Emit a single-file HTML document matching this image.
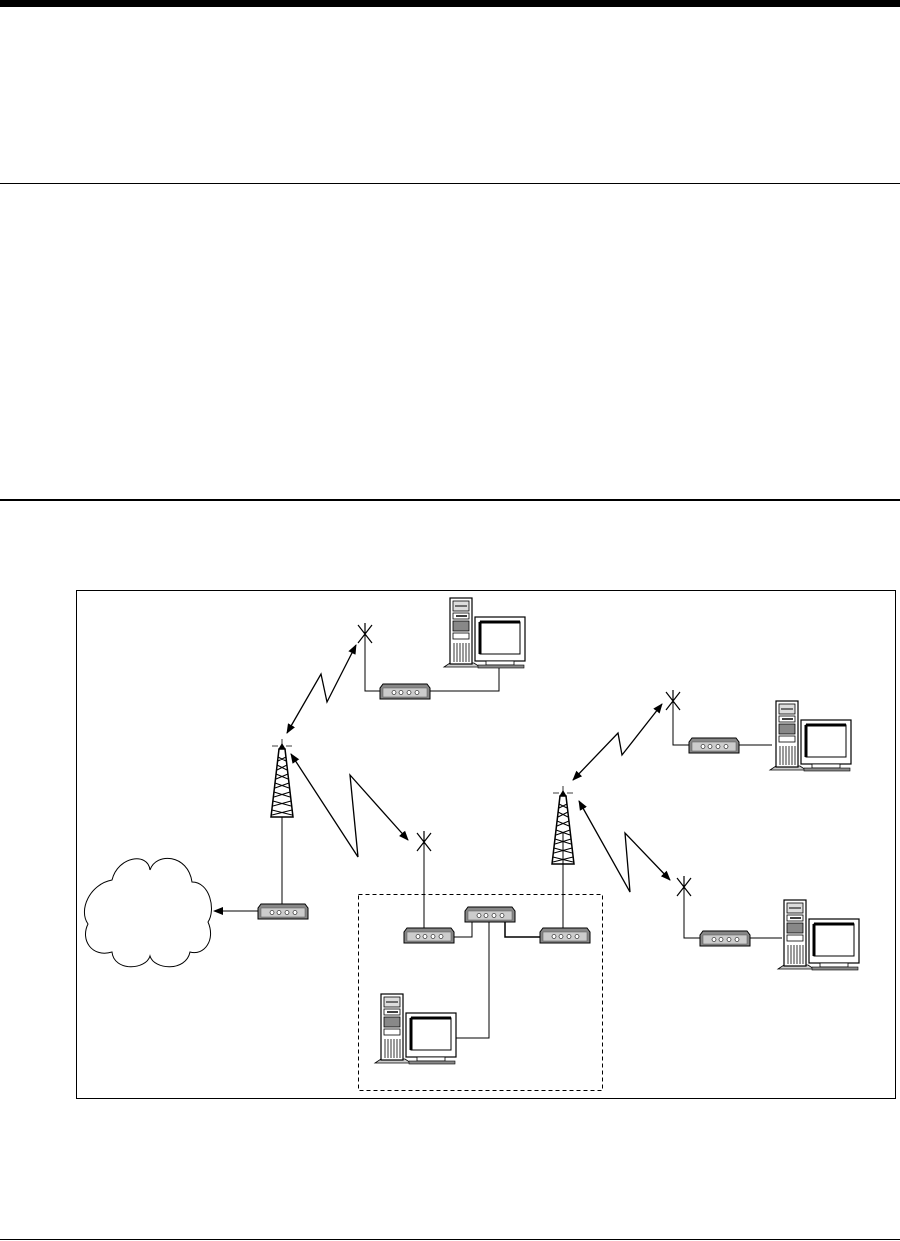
<!DOCTYPE html>
<html><head><meta charset="utf-8"><style>
html,body{margin:0;padding:0;background:#fff;width:900px;height:1241px;overflow:hidden}
</style></head><body>
<svg width="900" height="1241" viewBox="0 0 900 1241" xmlns="http://www.w3.org/2000/svg">
<defs>
<marker id="ah" markerWidth="10" markerHeight="10" refX="9" refY="5" orient="auto-start-reverse" markerUnits="userSpaceOnUse">
<path d="M0,1 L10,5 L0,9 Z" fill="#000"/>
</marker>
<g id="modem">
<path d="M0,4 L3,0 L47,0 L50,4 L50,15 L0,15 Z" fill="#888" stroke="#000" stroke-width="1"/>
<rect x="3" y="4" width="44" height="9" fill="#ccc" stroke="#555" stroke-width="0.5"/>
<circle cx="14" cy="8.5" r="2" fill="#fff" stroke="#000" stroke-width="0.6"/>
<circle cx="21" cy="8.5" r="2" fill="#fff" stroke="#000" stroke-width="0.6"/>
<circle cx="29" cy="8.5" r="2" fill="#fff" stroke="#000" stroke-width="0.6"/>
<circle cx="37" cy="8.5" r="2" fill="#fff" stroke="#000" stroke-width="0.6"/>
</g>
<g id="pc">
<path d="M0,69 L6,65 L30,65 L36,69 Z" fill="#ccc" stroke="#000" stroke-width="0.8"/>
<rect x="6" y="0" width="22" height="66" fill="#fff" stroke="#000" stroke-width="1.2"/>
<rect x="9" y="3" width="16" height="10" fill="#ddd" stroke="#000" stroke-width="0.8"/>
<line x1="11" y1="8" x2="23" y2="8" stroke="#000"/>
<rect x="9" y="15" width="16" height="6" fill="#fff" stroke="#000" stroke-width="0.8"/>
<line x1="12" y1="18" x2="23" y2="18" stroke="#000" stroke-width="1.5"/>
<rect x="9" y="23" width="16" height="10" fill="#888" stroke="#000" stroke-width="0.8"/>
<rect x="9" y="35" width="16" height="6" fill="#fff" stroke="#000" stroke-width="0.8"/>
<g stroke="#000" stroke-width="0.8"><line x1="10" y1="45" x2="10" y2="64"/><line x1="13" y1="45" x2="13" y2="64"/><line x1="16" y1="45" x2="16" y2="64"/><line x1="19" y1="45" x2="19" y2="64"/><line x1="22" y1="45" x2="22" y2="64"/><line x1="25" y1="45" x2="25" y2="64"/></g>
<rect x="31" y="19" width="50" height="44" fill="#fff" stroke="#000" stroke-width="1.2"/>
<rect x="36" y="24" width="40" height="32" fill="#fff" stroke="#000" stroke-width="1"/>
<path d="M36,24 L76,24 M36,24 L36,56" stroke="#000" stroke-width="3"/>
<rect x="42" y="63" width="28" height="4" fill="#fff" stroke="#000" stroke-width="0.8"/>
<rect x="34" y="67" width="46" height="3" fill="#888" stroke="#000" stroke-width="0.6"/>
</g>
<g id="ant">
<path d="M-7,-9 L7,9 M7,-9 L-7,9 M0,-11 L0,0" stroke="#000" stroke-width="1.2" fill="none"/>
</g>
<g id="tower" fill="none" stroke="#000" stroke-width="1">
<path d="M-3,0 L-11,68 L11,68 L3,0 Z" stroke-width="1.5"/>
<path d="M-4,8 L4,12 M4,8 L-4,12 M-5,16 L5,21 M5,16 L-5,21 M-6,25 L6,30 M6,25 L-6,30 M-7,34 L7,39 M7,34 L-7,39 M-8,43 L8,48 M8,43 L-8,48 M-9,52 L9,57 M9,52 L-9,57 M-10,61 L10,66 M10,61 L-10,66"/>
<path d="M0,0 L0,-10 M-10,-3 L-4,-3 M4,-3 L10,-3" stroke-width="0.8"/>
<path d="M-3,0 L0,-5 L3,0 Z" fill="#000"/>
</g>
</defs>

<rect x="0" y="0" width="900" height="7" fill="#000"/>
<rect x="0" y="183" width="900" height="1" fill="#000"/>
<rect x="0" y="499" width="900" height="2" fill="#000"/>
<rect x="0" y="1239" width="900" height="1" fill="#000"/>

<rect x="76.5" y="590.5" width="819" height="508" fill="none" stroke="#000" stroke-width="1"/>
<rect x="358.5" y="894.5" width="244" height="196" fill="none" stroke="#000" stroke-width="1" stroke-dasharray="4,3"/>

<!-- cloud -->
<path d="M112,880 C118,856 148,852 150,870 C156,852 188,854 192,882 C210,882 216,910 208,922 C216,940 204,956 190,952 C186,972 154,970 150,956 C146,970 114,972 112,952 C92,958 80,940 88,924 C78,910 90,884 112,880 Z" fill="#fff" stroke="#000" stroke-width="1"/>

<!-- connections -->
<g stroke="#000" stroke-width="1" fill="none">
<path d="M258,911 L214,911" marker-end="url(#ah)"/>
<path d="M282,817 L282,905"/>
<path d="M365,634 L365,691 L380,691"/>
<path d="M430,691 L499,691 L499,668"/>
<path d="M424,842 L424,929"/>
<path d="M563,832 L563,929"/>
<path d="M454,937 L472,937 L472,921"/>
<path d="M505,921 L505,937 L540,937" stroke-width="1.5"/>
<path d="M489,921 L489,1038 L455,1038"/>
<path d="M673,701 L673,745 L689,745"/>
<path d="M739,745 L772,745"/>
<path d="M684,887 L684,938 L700,938"/>
<path d="M750,938 L782,938"/>
</g>

<!-- lightning arrows -->
<g stroke="#000" stroke-width="1.3" fill="none">
<polyline points="287,733 321,674 327,702 356,645" marker-start="url(#ah)" marker-end="url(#ah)"/>
<polyline points="291,754 358,857 350,775 408,840" marker-start="url(#ah)" marker-end="url(#ah)"/>
<polyline points="573,780 618,733 622,755 662,704" marker-start="url(#ah)" marker-end="url(#ah)"/>
<polyline points="579,801 630,892 625,833 670,880" marker-start="url(#ah)" marker-end="url(#ah)"/>
</g>

<use href="#tower" x="282" y="749"/>
<use href="#tower" x="563" y="796"/>

<use href="#ant" x="365" y="634"/>
<use href="#ant" x="424" y="842"/>
<use href="#ant" x="673" y="701"/>
<use href="#ant" x="684" y="887"/>

<use href="#modem" x="380" y="684"/>
<use href="#modem" x="258" y="904"/>
<use href="#modem" x="404" y="928"/>
<use href="#modem" x="465" y="907"/>
<use href="#modem" x="540" y="928"/>
<use href="#modem" x="689" y="738"/>
<use href="#modem" x="700" y="931"/>

<use href="#pc" x="444" y="598"/>
<use href="#pc" x="770" y="701"/>
<use href="#pc" x="778" y="900"/>
<use href="#pc" x="375" y="994"/>
</svg>
</body></html>
